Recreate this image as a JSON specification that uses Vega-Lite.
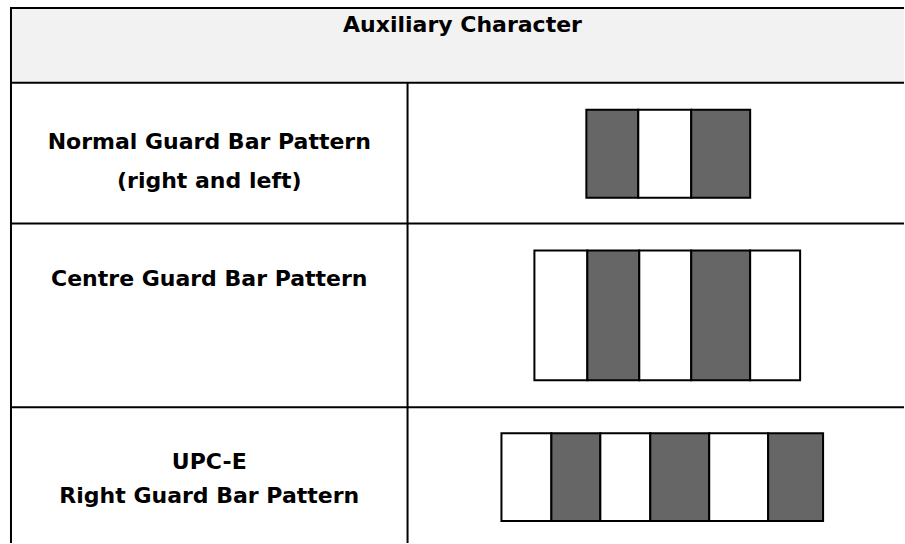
{
  "$schema": "https://vega.github.io/schema/vega-lite/v6.json",
  "width": 905,
  "height": 544,
  "padding": 0,
  "autosize": {"type": "fit", "contains": "padding"},
  "background": "white",
  "config": {"view": {"stroke": null}},
  "datasets": {
    "header": [{"x": 11, "x2": 905, "y": 8, "y2": 83}],
    "lines": [
      {"x": 10, "x2": 905, "y": 8, "y2": 8},
      {"x": 10, "x2": 905, "y": 83, "y2": 83},
      {"x": 10, "x2": 905, "y": 224, "y2": 224},
      {"x": 10, "x2": 905, "y": 408, "y2": 408},
      {"x": 11, "x2": 11, "y": 7, "y2": 544},
      {"x": 408, "x2": 408, "y": 83, "y2": 544}
    ],
    "bars": [
      {"pattern": "Normal", "module": 1, "kind": "bar", "x": 587, "x2": 639, "y": 110, "y2": 198},
      {"pattern": "Normal", "module": 2, "kind": "space", "x": 639, "x2": 692, "y": 110, "y2": 198},
      {"pattern": "Normal", "module": 3, "kind": "bar", "x": 692, "x2": 751, "y": 110, "y2": 198},
      {"pattern": "Centre", "module": 1, "kind": "space", "x": 535, "x2": 588, "y": 251, "y2": 381},
      {"pattern": "Centre", "module": 2, "kind": "bar", "x": 588, "x2": 640, "y": 251, "y2": 381},
      {"pattern": "Centre", "module": 3, "kind": "space", "x": 640, "x2": 692, "y": 251, "y2": 381},
      {"pattern": "Centre", "module": 4, "kind": "bar", "x": 692, "x2": 751, "y": 251, "y2": 381},
      {"pattern": "Centre", "module": 5, "kind": "space", "x": 751, "x2": 801, "y": 251, "y2": 381},
      {"pattern": "UPC-E", "module": 1, "kind": "space", "x": 502, "x2": 552, "y": 434, "y2": 522},
      {"pattern": "UPC-E", "module": 2, "kind": "bar", "x": 552, "x2": 601, "y": 434, "y2": 522},
      {"pattern": "UPC-E", "module": 3, "kind": "space", "x": 601, "x2": 651, "y": 434, "y2": 522},
      {"pattern": "UPC-E", "module": 4, "kind": "bar", "x": 651, "x2": 710, "y": 434, "y2": 522},
      {"pattern": "UPC-E", "module": 5, "kind": "space", "x": 710, "x2": 769, "y": 434, "y2": 522},
      {"pattern": "UPC-E", "module": 6, "kind": "bar", "x": 769, "x2": 824, "y": 434, "y2": 522}
    ],
    "labels": [
      {"text": "Auxiliary Character", "x": 463, "y": 32},
      {"text": "Normal Guard Bar Pattern", "x": 209.5, "y": 149},
      {"text": "(right and left)", "x": 209.5, "y": 188},
      {"text": "Centre Guard Bar Pattern", "x": 209.5, "y": 287},
      {"text": "UPC-E", "x": 209.5, "y": 470},
      {"text": "Right Guard Bar Pattern", "x": 209.5, "y": 504}
    ]
  },
  "layer": [
    {
      "data": {"name": "header"},
      "mark": {"type": "rect", "fill": "#f2f2f2", "stroke": null},
      "encoding": {
        "x": {"field": "x", "type": "quantitative", "scale": {"domain": [0, 905], "nice": false, "zero": false}, "axis": null},
        "x2": {"field": "x2"},
        "y": {"field": "y", "type": "quantitative", "scale": {"domain": [0, 544], "nice": false, "zero": false, "reverse": true}, "axis": null},
        "y2": {"field": "y2"}
      }
    },
    {
      "data": {"name": "lines"},
      "mark": {"type": "rule", "color": "black", "strokeWidth": 2},
      "encoding": {
        "x": {"field": "x", "type": "quantitative"},
        "x2": {"field": "x2"},
        "y": {"field": "y", "type": "quantitative"},
        "y2": {"field": "y2"}
      }
    },
    {
      "data": {"name": "bars"},
      "mark": {"type": "rect", "stroke": "black", "strokeWidth": 2},
      "encoding": {
        "x": {"field": "x", "type": "quantitative"},
        "x2": {"field": "x2"},
        "y": {"field": "y", "type": "quantitative"},
        "y2": {"field": "y2"},
        "fill": {"field": "kind", "type": "nominal", "scale": {"domain": ["bar", "space"], "range": ["#666666", "#ffffff"]}, "legend": null},
        "opacity": {"value": 1}
      }
    },
    {
      "data": {"name": "labels"},
      "mark": {"type": "text", "align": "center", "baseline": "alphabetic", "font": "DejaVu Sans", "fontWeight": "bold", "fontSize": 22, "color": "black"},
      "encoding": {
        "x": {"field": "x", "type": "quantitative"},
        "y": {"field": "y", "type": "quantitative"},
        "text": {"field": "text"}
      }
    }
  ]
}
